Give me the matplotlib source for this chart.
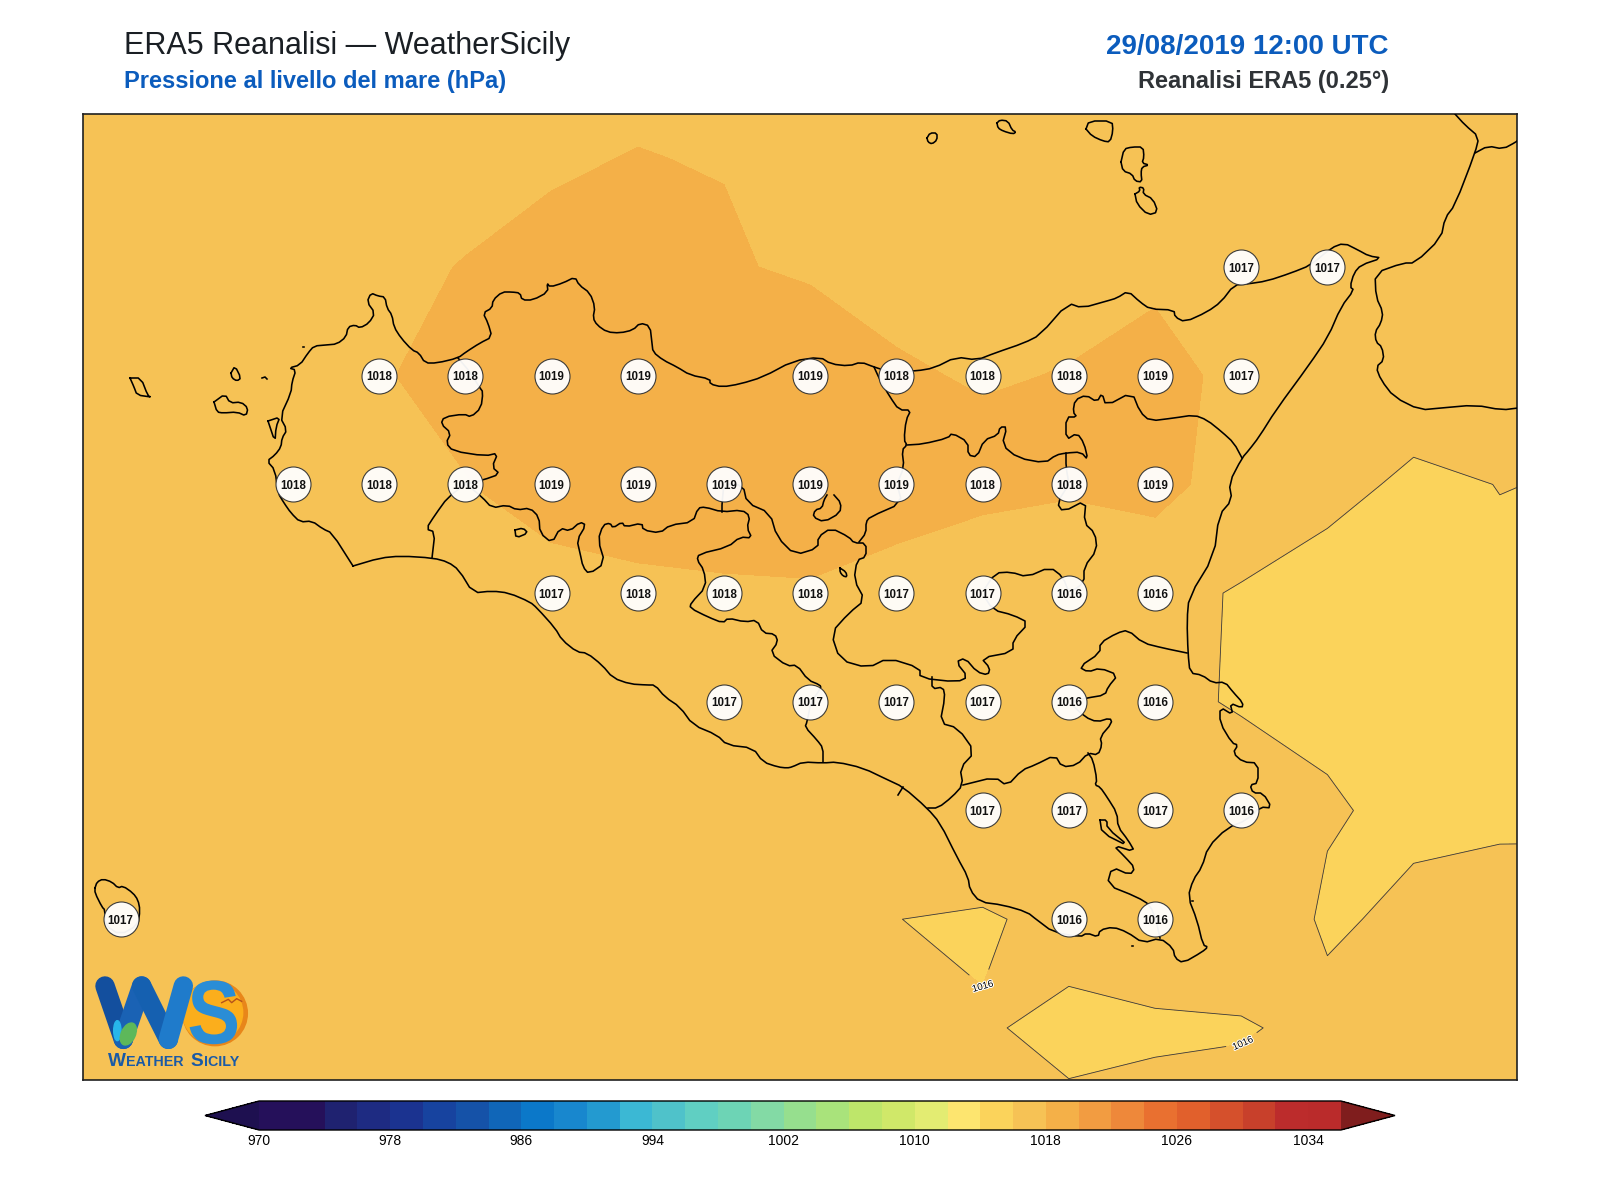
#code for drawing the ERA5 sea level pressure map over Sicily

import matplotlib
matplotlib.use('Agg')
import matplotlib.pyplot as plt
import matplotlib.patheffects as pe
from matplotlib.colors import ListedColormap, BoundaryNorm
from matplotlib.font_manager import FontProperties
from matplotlib.patches import Circle, Ellipse, PathPatch
from matplotlib.textpath import TextPath
from matplotlib.transforms import Affine2D
import numpy as np

plt.rcParams['font.family'] = ['Liberation Sans', 'DejaVu Sans']

#ERA5 grid, 0.25 degrees
grid_lon = [11.75, 12.0, 12.25, 12.5, 12.75, 13.0, 13.25, 13.5, 13.75, 14.0, 14.25, 14.5, 14.75, 15.0, 15.25, 15.5, 15.75, 16.0, 16.25]
grid_lat = [38.75, 38.5, 38.25, 38.0, 37.75, 37.5, 37.25, 37.0, 36.75, 36.5, 36.25]

#sea level pressure in hPa, one list per latitude
slp_3875 = [1016.9, 1016.9, 1016.9, 1016.9, 1017.0, 1017.2, 1017.4, 1017.817, 1017.5, 1017.1, 1016.9, 1016.8, 1016.7, 1016.7, 1016.7, 1016.6, 1016.6, 1016.5, 1016.5]
slp_3850 = [1017, 1017, 1017, 1017, 1017.2, 1017.73, 1017.937, 1018.021, 1017.962, 1017.4, 1017.1, 1017, 1017, 1016.9, 1016.9, 1016.8, 1016.8, 1016.7, 1016.7]
slp_3825 = [1017.1, 1017.1, 1017.2, 1017.5, 1017.82, 1018.03, 1018.147, 1018.3, 1018.119, 1017.82, 1017.63, 1017.4, 1017.62, 1017.58, 1017.1, 1017, 1016.8, 1016.6, 1016.6]
slp_3800 = [1017.1, 1017.1, 1017.4, 1017.6, 1017.9, 1018.41, 1018.6, 1018.8, 1018.95, 1018.9, 1018.13, 1017.9, 1018.047, 1018.7, 1017.44, 1017, 1016.6, 1016.5, 1016.5]
slp_3775 = [1017.1, 1017.1, 1017.3, 1017.6, 1017.7, 1017.95, 1018.7, 1018.8, 1018.8, 1018.9, 1018.7, 1018.426, 1018.3, 1018.673, 1017.032, 1016.333, 1015.8, 1016.018, 1015.954]
slp_3750 = [1017, 1017, 1017, 1017, 1017.1, 1017.2, 1017.39, 1017.69, 1017.82, 1017.86, 1017.42, 1016.9, 1016.16, 1016.43, 1015.885, 1015.51, 1015.4, 1015.83, 1015.5]
slp_3725 = [1017, 1017, 1017, 1017, 1017, 1016.9, 1016.9, 1016.9, 1017, 1017.1, 1016.9, 1016.8, 1016.3, 1016.2, 1015.9275, 1015.726, 1015.4, 1015.4, 1015.4]
slp_3700 = [1017, 1017, 1017, 1017, 1017, 1016.9, 1016.9, 1016.9, 1016.9, 1016.9, 1016.85, 1016.81, 1016.75, 1016.6, 1016.47, 1016.135, 1015.688, 1015.7, 1015.7]
slp_3675 = [1017, 1017, 1016.9, 1016.8, 1016.7, 1016.6, 1016.5, 1016.4, 1016.3, 1016.2, 1016.0075, 1015.9, 1016.252, 1016.4, 1017.24, 1015.774, 1016.33, 1016.67, 1016.7]
slp_3650 = [1016.9, 1016.9, 1016.8, 1016.7, 1016.7, 1016.6, 1016.5, 1016.5, 1016.45, 1016.4, 1016.2, 1016.062, 1015.844, 1015.912, 1015.847, 1016.447, 1016.6, 1016.7, 1016.8]
slp_3625 = [1016.8, 1016.8, 1016.8, 1016.7, 1016.7, 1016.6, 1016.6, 1016.5, 1016.5, 1016.4, 1016.35, 1016.3, 1016.178, 1016.238, 1016.867, 1016.9, 1016.9, 1016.9, 1016.9]

#the round labels on the map
label_lon = [15.25, 15.5,
             12.75, 13.0, 13.25, 13.5, 14.0, 14.25, 14.5, 14.75, 15.0, 15.25,
             12.5, 12.75, 13.0, 13.25, 13.5, 13.75, 14.0, 14.25, 14.5, 14.75, 15.0,
             13.25, 13.5, 13.75, 14.0, 14.25, 14.5, 14.75, 15.0,
             13.75, 14.0, 14.25, 14.5, 14.75, 15.0,
             14.5, 14.75, 15.0, 15.25,
             14.75, 15.0, 12.0]
label_lat = [38.25, 38.25,
             38.0, 38.0, 38.0, 38.0, 38.0, 38.0, 38.0, 38.0, 38.0, 38.0,
             37.75, 37.75, 37.75, 37.75, 37.75, 37.75, 37.75, 37.75, 37.75, 37.75, 37.75,
             37.5, 37.5, 37.5, 37.5, 37.5, 37.5, 37.5, 37.5,
             37.25, 37.25, 37.25, 37.25, 37.25, 37.25,
             37.0, 37.0, 37.0, 37.0,
             36.75, 36.75, 36.75]
label_val = [1017, 1017,
             1018, 1018, 1019, 1019, 1019, 1018, 1018, 1018, 1019, 1017,
             1018, 1018, 1018, 1019, 1019, 1019, 1019, 1019, 1018, 1018, 1019,
             1017, 1018, 1018, 1018, 1017, 1017, 1016, 1016,
             1017, 1017, 1017, 1017, 1016, 1016,
             1017, 1017, 1017, 1016,
             1016, 1016, 1017]

#colour scale, one colour for every 2 hPa
levels = list(range(970, 1038, 2))
isobars = list(range(972, 1038, 4))
bar_ticks = list(range(970, 1038, 8))
colours = ['#25105A', '#25105A', '#1F2270', '#1E2B82', '#1B3390', '#17439F', '#1552A8', '#1066B8', '#0B78C9',
           '#1887CE', '#239AD0', '#3BB8D4', '#4FC2CA', '#60CFC2', '#6DD4B5', '#83DAA5', '#96DF8E', '#A9E37B',
           '#BEE66A', '#D0E869', '#E3EC72', '#FDE56F', '#FBD35B', '#F6C255', '#F4B048', '#F29C41', '#EE883A',
           '#E97030', '#E1602C', '#D5502C', '#C8402B', '#BC2C2C', '#BA2B2B']

#coast and province lines, (x,y) in sheet units
#they go to lon/lat with the calibration below
sicily = [(353,566),(332,533),(323,529),(312,521),(300,522),(291,513),(284,503),(278,493),(275,470),(267,461),(275,455),(281,447),(282,438),(287,430),(280,417),(291,393),(292,382),(296,370),(289,368),(300,365),(308,353),(314,346),(326,345),(337,344),(346,337),(348,327),(355,325),(360,328),(369,323),(375,313),(367,302),(371,293),(378,296),(385,297),(387,308),(392,315),(394,327),(401,338),(412,350),(419,353),(425,363),(437,363),(458,358),(466,352),(480,343),(492,337),(488,323),(483,313),(492,308),(493,300),(502,292),(512,292),(520,293),(522,300),(533,300),(548,292),(547,283),(550,287),(563,283),(575,277),(579,285),(590,293),(595,307),(593,318),(597,325),(607,332),(620,333),(633,330),(640,323),(650,326),(652,343),(653,352),(663,360),(677,367),(690,375),(710,379),(710,384),(722,387),(740,384),(763,377),(793,361),(820,357),(831,364),(849,366),(861,362),(874,367),(890,372),(916,371),(934,368),(956,357),(977,360),(995,353),(1024,343),(1040,335),(1068,303),(1082,308),(1107,301),(1117,298),(1128,291),(1140,302),(1150,309),(1174,310),(1175,317),(1185,322),(1207,312),(1221,302),(1234,285),(1247,284),(1267,281),(1291,273),(1311,265),(1331,248),(1344,243),(1358,250),(1369,256),(1382,258),(1361,265),(1354,273),(1350,287),(1354,290),(1341,307),(1328,337),(1309,365),(1276,410),(1259,437),(1249,450),(1242,458),(1229,483),(1232,500),(1219,515),(1214,556),(1189,597),(1187,620),(1188,653),(1190,673),(1202,675),(1213,683),(1225,682),(1233,692),(1243,703),(1242,708),(1230,703),(1233,715),(1220,707),(1220,723),(1232,743),(1238,745),(1233,753),(1243,762),(1258,763),(1258,783),(1250,785),(1253,793),(1263,793),(1272,808),(1260,807),(1247,820),(1227,828),(1208,847),(1202,867),(1193,880),(1188,897),(1197,920),(1203,945),(1208,947),(1202,952),(1183,963),(1175,958),(1173,948),(1160,938),(1143,943),(1127,932),(1113,927),(1100,930),(1098,937),(1087,933),(1080,937),(1053,932),(1037,920),(1027,912),(1003,905),(980,902),(970,890),(968,877),(957,857),(940,823),(927,808),(903,787),(888,780),(863,768),(837,762),(823,763),(803,762),(792,767),(787,768),(778,767),(763,762),(753,748),(727,745),(717,735),(693,725),(680,707),(665,697),(655,685),(647,685),(630,684),(613,678),(602,665),(587,653),(577,652),(562,640),(555,628),(537,608),(530,602),(509,593),(492,591),(473,593),(459,570),(448,562),(433,558),(401,556),(380,558),(353,566)]
calabria = [(1455,114),(1465,125),(1479,137),(1475,153),(1455,205),(1445,218),(1441,238),(1415,263),(1403,263),(1375,273),(1376,297),(1383,312),(1381,323),(1375,332),(1376,342),(1382,347),(1384,360),(1376,367),(1381,380),(1394,397),(1420,410),(1441,408),(1475,405),(1502,410),(1518,408)]
calabria_border = [(1475,153),(1488,146),(1503,149),(1516,142),(1518,140)]
favignana = [(214,402),(225,394),(230,403),(241,402),(248,408),(246,416),(237,412),(223,413),(217,412),(214,402)]
levanzo = [(231,373),(235,366),(241,378),(237,381),(232,378),(231,373)]
formica = [(262,378),(265,377),(267,379)]
marettimo = [(130,378),(141,378),(148,396),(151,397),(137,395),(134,387),(130,378)]
stagnone = [(268,421),(275,442),(276,427),(280,417),(268,421)]
pantelleria = [(95,888),(97,882),(103,879),(112,882),(118,888),(123,886),(133,893),(138,900),(140,910),(138,925),(120,935),(105,925),(105,910),(102,907),(95,893),(95,888)]
alicudi = [(927,138),(930,133),(937,133),(937,140),(932,144),(928,142),(927,138)]
filicudi = [(997,123),(1000,120),(1008,121),(1012,130),(1016,132),(1013,134),(1003,131),(998,128),(997,123)]
salina = [(1086,129),(1089,121),(1112,121),(1113,131),(1110,142),(1103,141),(1092,136),(1086,129)]
lipari = [(1121,162),(1124,149),(1132,147),(1143,147),(1144,157),(1142,163),(1149,165),(1142,167),(1141,173),(1142,182),(1135,181),(1132,174),(1123,171),(1121,162)]
vulcano = [(1135,194),(1140,191),(1139,187),(1144,188),(1143,194),(1153,199),(1158,212),(1148,215),(1137,204),(1135,194)]
lake_west = [(515,530),(523,528),(528,533),(516,538),(515,530)]
lake_pergusa = [(840,568),(846,572),(847,577),(843,576),(840,572),(840,568)]
enclave = [(834,495),(841,503),(840,513),(824,522),(813,517),(815,510),(822,508),(824,500),(827,495)]
lagoon_sr = [(1100,820),(1107,820),(1107,828),(1130,847),(1102,833),(1100,820)]
rock_a = [(1132,946),(1133,946)]
rock_b = [(1192,901),(1193,901)]
rock_c = [(303,347),(304,347)]
tp_pa = [(458,358),(470,372),(480,388),(483,392),(481,408),(471,417),(464,414),(444,417),(441,424),(451,433),(446,443),(453,451),(485,456),(498,453),(492,467),(500,474),(483,480),(466,484)]
tp_ag = [(466,484),(448,497),(435,515),(426,529),(435,532),(432,558)]
pa_ag = [(466,484),(482,497),(492,508),(507,505),(517,510),(530,508),(539,517),(540,533),(552,543),(560,528),(570,531),(580,522),(586,525),(577,540),(580,553),(583,567),(589,574),(605,563),(598,540),(603,525),(610,523),(613,528),(622,522),(625,527),(642,523),(643,530),(660,533),(670,525),(693,522),(698,508),(705,507),(722,512),(742,510),(750,516),(747,528),(752,538),(740,537),(728,547),(699,554),(697,560),(704,570),(706,587),(691,603),(690,608),(708,617),(723,623),(728,618),(745,622),(757,620),(763,633),(775,634),(778,642),(770,653),(787,666),(797,665),(808,680),(820,685),(821,688),(811,702),(807,722),(805,727),(817,740),(823,748),(823,762)]
pa_cl = [(722,512),(722,503),(724,484),(743,485),(747,503),(770,513),(777,537),(795,555),(818,548),(818,537),(831,528),(849,537),(854,543),(866,543),(866,557),(857,560),(854,580),(865,600),(849,613),(831,633),(840,660),(868,668),(888,658),(920,668),(920,678),(957,682),(968,677),(956,662),(965,658),(977,672),(988,675),(990,668),(981,658),(1013,652),(1013,640),(1029,623),(1013,615),(993,610),(982,593),(995,573),(1011,572),(1027,577),(1050,567),(1063,577),(1069,593),(1084,583),(1084,567),(1097,550),(1095,533),(1084,523),(1086,500),(1063,512),(1057,503),(1069,484),(1066,467),(1066,453)]
pa_me = [(874,367),(880,380),(890,397),(899,410),(911,410),(906,420),(904,440),(907,445),(902,450),(904,467),(897,484),(902,503),(870,517),(866,522),(866,533),(859,542)]
me_en = [(907,445),(923,444),(948,438),(952,433),(968,442),(968,455),(977,457),(984,440),(998,435),(1000,427),(1007,427),(1002,445),(1018,458),(1045,463),(1056,455),(1066,453),(1081,452),(1088,460),(1084,443),(1077,433),(1066,440),(1066,417),(1077,417),(1073,412),(1075,400),(1086,395),(1097,402),(1102,393),(1106,406),(1132,392),(1140,412),(1150,421),(1174,418),(1194,415),(1207,420),(1222,432),(1234,443),(1242,458)]
ct_rg = [(932,677),(932,689),(943,687),(945,697),(940,723),(958,728),(975,752),(960,768),(963,785),(952,797),(938,808),(928,808)]
rg_ct = [(963,785),(995,777),(1007,786),(1022,770),(1035,765),(1055,755),(1062,767),(1077,765),(1088,753),(1098,755),(1102,745),(1100,737),(1112,723),(1110,718),(1097,722),(1085,717),(1069,702),(1087,698),(1105,695),(1108,687),(1118,675),(1100,668),(1088,672),(1079,667),(1100,653),(1100,643),(1117,633),(1128,630),(1143,643),(1163,648),(1187,653)]
rg_sr = [(1088,753),(1093,760),(1097,780),(1095,785),(1100,787),(1107,797),(1117,813),(1118,827),(1128,840),(1135,852),(1113,845),(1125,857),(1135,868),(1130,875),(1112,867),(1107,885),(1137,897),(1150,905),(1156,920),(1160,938)]
gela_mole = [(903,787),(898,795)]
map_lines = [sicily, calabria, calabria_border, favignana, levanzo, formica, marettimo, stagnone, pantelleria,
             alicudi, filicudi, salina, lipari, vulcano, lake_west, lake_pergusa, enclave, lagoon_sr,
             rock_a, rock_b, rock_c,
             tp_pa, tp_ag, pa_ag, pa_cl, pa_me, me_en, ct_rg, rg_ct, rg_sr, gela_mole]

#calibration of the sheet: 344.8 units per degree lon, 434.8 per degree lat
def to_lon(x):
    return 12.5+(np.asarray(x,dtype=float)-293)/344.8

def to_lat(y):
    return 38.25-(np.asarray(y,dtype=float)-267)/434.8

#cut the corners a bit, straight digitised segments look too stiff
def soften(xy,r=0.25):
    if len(xy)<4:
        return xy
    a=xy[:-1]
    b=xy[1:]
    mid=np.empty((2*len(a),2))
    mid[0::2]=a*(1-r)+b*r
    mid[1::2]=a*r+b*(1-r)
    return np.vstack([xy[:1],mid,xy[-1:]])

W,H = 1600,1200
fig = plt.figure(figsize=(16,12),dpi=100,facecolor='white')
ax = fig.add_axes([83/W,(H-1080)/H,(1517-83)/W,(1080-114)/H])

cmap = ListedColormap(colours)
cmap.set_under('#1E1050')
cmap.set_over('#7F1D1D')
norm = BoundaryNorm(levels,cmap.N)

slp = np.array([slp_3875,slp_3850,slp_3825,slp_3800,slp_3775,slp_3750,slp_3725,slp_3700,slp_3675,slp_3650,slp_3625])
cf = ax.contourf(grid_lon,grid_lat,slp,levels=levels,cmap=cmap,norm=norm,extend='both',zorder=1)

#isobars every 4 hPa, only 1016 shows here
cs = ax.contour(grid_lon,grid_lat,slp,levels=isobars,colors='#3a3a3a',linewidths=0.6,zorder=2)
lab = ax.clabel(cs,fmt='%d',fontsize=7,inline=True,manual=[(14.50,36.596),(15.252,36.468)])
for t in lab:
    t.set_color('black')
    t.set_path_effects([pe.withStroke(linewidth=1.5,foreground='white')])

for line in map_lines:
    xy = soften(np.array(line,dtype=float))
    ax.plot(to_lon(xy[:,0]),to_lat(xy[:,1]),color='black',lw=1.15,zorder=3,solid_joinstyle='round')

ax.set_xlim(to_lon(83),to_lon(1517))
ax.set_ylim(to_lat(1080),to_lat(114))
ax.set_xticks([])
ax.set_yticks([])
for s in ax.spines.values():
    s.set_linewidth(1.2)
    s.set_color('#202020')

#round labels
ax.scatter(label_lon,label_lat,s=635,facecolor='white',edgecolor='#333333',linewidth=0.8,alpha=0.95,zorder=5)
for lo,la,v in zip(label_lon,label_lat,label_val):
    ax.text(lo,la,str(v),ha='center',va='center_baseline',fontsize=8.3,fontweight='bold',color='#111111',zorder=6)

#titles
fig.text(124/W,1-54/H,'ERA5 Reanalisi \u2014 WeatherSicily',fontsize=22,color='#1A1F24',ha='left',va='baseline')
fig.text(124/W,1-88/H,'Pressione al livello del mare (hPa)',fontsize=17,fontweight='bold',color='#0B5CBD',ha='left',va='baseline')
fig.text(1389/W,1-54/H,'29/08/2019 12:00 UTC',fontsize=20,fontweight='bold',color='#0B5CBD',ha='right',va='baseline')
fig.text(1389/W,1-88/H,'Reanalisi ERA5 (0.25\u00b0)',fontsize=17,fontweight='bold',color='#2F3337',ha='right',va='baseline')

#colour bar, the axes include the two pointed ends
cax = fig.add_axes([205/W,(H-1130)/H,(1395-205)/W,29/H])
cb = fig.colorbar(cf,cax=cax,orientation='horizontal',extend='both',extendfrac=0.05,ticks=bar_ticks,spacing='proportional')
cb.ax.minorticks_off()
cb.ax.tick_params(which='both',length=0,labelsize=10,pad=3)
cb.outline.set_linewidth(1.0)
cb.ax.set_xticklabels([str(t) for t in bar_ticks])

#logo, drawn in its own little axes
lg = fig.add_axes([80/W,(H-1080)/H,200/W,120/H],zorder=10)
lg.set_xlim(0,600)
lg.set_ylim(360,0)
lg.axis('off')
lg.patch.set_alpha(0)
lg.add_patch(Circle((405,160),97,color='#E8861A',zorder=1))
lg.add_patch(Circle((398,158),90,color='#FBAE1C',zorder=2))
lg.plot([75,130],[78,238],color='#134F9E',lw=14,solid_capstyle='round',zorder=3)
lg.plot([130,185],[238,78],color='#1A62B4',lw=14,solid_capstyle='round',zorder=3)
lg.plot([185,265],[78,238],color='#1560B0',lw=14,solid_capstyle='round',zorder=3)
lg.plot([265,310],[238,78],color='#1F7BCB',lw=14,solid_capstyle='round',zorder=3)
#the big S of the logo is artwork, so an outline and not a text
s_glyph = TextPath((0,0),'S',size=270,prop=FontProperties(family='Liberation Sans',weight='bold'))
lg.add_patch(PathPatch(s_glyph,facecolor='#2A8DD6',edgecolor='none',zorder=4,
                       transform=Affine2D().scale(0.88,-1).translate(322,250)+lg.transData))
lg.add_patch(Ellipse((112,212),22,60,color='#27B6EA',zorder=5))
lg.add_patch(Ellipse((145,222),42,70,angle=25,color='#5DB85A',zorder=6))
lg.plot([425,445,455,470,485],[128,118,128,116,124],color='#B5521A',lw=1,zorder=7)
logo_parts = [('W',85,13.7),('EATHER',139,10.3),('S',330,13.7),('ICILY',372,10.3)]
for txt,xp,sz in logo_parts:
    lg.text(xp,318,txt,fontsize=sz,fontweight='bold',color='#1A5AA6',ha='left',va='baseline',zorder=8)

fig.savefig('out.png',dpi=100)
